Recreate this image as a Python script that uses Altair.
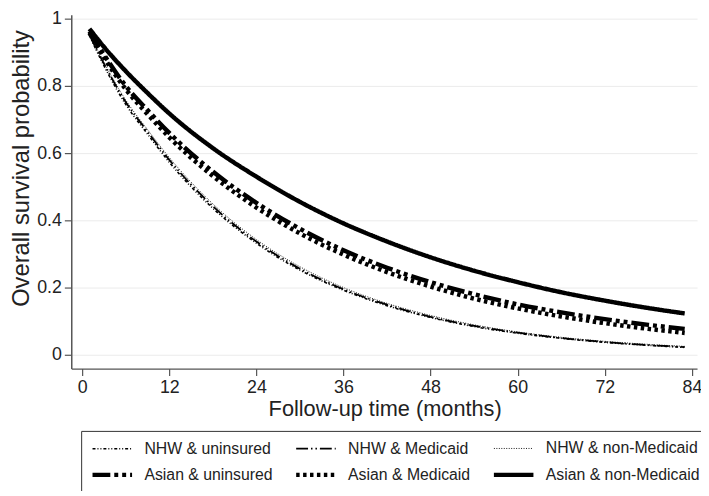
import altair as alt
import pandas as pd

months = [1, 3, 6, 9, 12, 18, 24, 30, 36, 42, 48, 54, 60, 66, 72, 78, 83]

series_names = [
    "NHW & uninsured",
    "NHW & Medicaid",
    "NHW & non-Medicaid",
    "Asian & uninsured",
    "Asian & Medicaid",
    "Asian & non-Medicaid",
]

nhw_uninsured = [0.950, 0.860, 0.745, 0.657, 0.573, 0.436, 0.332, 0.252, 0.192, 0.146, 0.111, 0.084, 0.064, 0.049, 0.037, 0.028, 0.022]
nhw_medicaid = [0.952, 0.866, 0.752, 0.664, 0.580, 0.442, 0.337, 0.256, 0.195, 0.149, 0.113, 0.086, 0.066, 0.050, 0.038, 0.029, 0.023]
nhw_nonmedicaid = [0.955, 0.870, 0.758, 0.670, 0.587, 0.449, 0.343, 0.262, 0.200, 0.153, 0.117, 0.089, 0.068, 0.052, 0.040, 0.031, 0.025]
asian_uninsured = [0.962, 0.893, 0.800, 0.728, 0.660, 0.545, 0.452, 0.375, 0.311, 0.259, 0.216, 0.180, 0.150, 0.126, 0.106, 0.089, 0.077]
asian_medicaid = [0.958, 0.885, 0.790, 0.716, 0.647, 0.532, 0.438, 0.361, 0.298, 0.246, 0.203, 0.167, 0.138, 0.114, 0.094, 0.077, 0.065]
asian_nonmedicaid = [0.970, 0.916, 0.844, 0.779, 0.718, 0.615, 0.530, 0.455, 0.391, 0.337, 0.290, 0.250, 0.216, 0.186, 0.161, 0.139, 0.123]

x_ticks = [0, 12, 24, 36, 48, 60, 72, 84]
y_ticks = [0, 0.2, 0.4, 0.6, 0.8, 1]

dash_styles = [[3, 2, 1, 2, 1, 2], [12, 3, 1.5, 3, 1.5, 3], [1, 1.5], [18, 4, 4, 4, 4, 4], [3.5, 3.5], [1, 0]]
line_widths = [1.6, 1.8, 0.9, 4.5, 4.5, 4.5]

all_values = [nhw_uninsured, nhw_medicaid, nhw_nonmedicaid, asian_uninsured, asian_medicaid, asian_nonmedicaid]
rows = []
for gid, (name, vals) in enumerate(zip(series_names, all_values)):
    for m, v in zip(months, vals):
        rows.append({"group": name, "gid": gid, "month": m, "surv": v})
df = pd.DataFrame(rows)

thresholds = [i + 0.5 for i in range(len(series_names) - 1)]
names_js = "[" + ",".join("'" + n + "'" for n in series_names) + "]"

FONT = "Liberation Sans"

legend = alt.Legend(
    title=None,
    orient="none",
    legendX=10,
    legendY=421,
    columns=3,
    direction="horizontal",
    labelExpr=f"{names_js}[datum.index]",
)

chart = alt.Chart(df).mark_line(color="black", interpolate="monotone").encode(
    x=alt.X(
        "month:Q",
        scale=alt.Scale(domain=[-1.5, 84.7], nice=False, zero=False),
        axis=alt.Axis(
            values=x_ticks,
            title="Follow-up time (months)",
            grid=False,
            labelFontSize=18,
            titleFontSize=22,
            titleFontWeight="normal",
            tickSize=7,
            labelPadding=3,
            titleX=317,
            titleY=40,
            titleBaseline="middle",
            titleAlign="center",
        ),
    ),
    y=alt.Y(
        "surv:Q",
        scale=alt.Scale(domain=[-0.0412, 1.0118], nice=False, zero=False),
        axis=alt.Axis(
            values=y_ticks,
            format="~g",
            title="Overall survival probability",
            grid=True,
            gridColor="#ebebeb",
            gridWidth=1,
            labelFontSize=18,
            titleFontSize=24,
            titleFontWeight="normal",
            tickSize=7,
            labelPadding=3,
            titleAngle=270,
            titleX=-50,
            titleY=155,
            titleAlign="center",
            titleBaseline="middle",
        ),
    ),
    strokeDash=alt.StrokeDash(
        "gid:Q",
        scale=alt.Scale(type="threshold", domain=thresholds, range=dash_styles),
        legend=legend,
    ),
    strokeWidth=alt.StrokeWidth(
        "gid:Q",
        scale=alt.Scale(type="threshold", domain=thresholds, range=line_widths),
        legend=legend,
    ),
    detail="group:N",
    order=alt.Order("month:Q"),
).properties(
    width=633,
    height=358,
    autosize=alt.AutoSizeParams(type="none"),
    padding={"left": 64, "top": 4, "right": 4, "bottom": 121},
).configure(
    font=FONT,
    background="white",
).configure_view(
    stroke=None,
).configure_axis(
    domainColor="#555555",
    domainWidth=1.5,
    tickColor="#555555",
    tickWidth=1.2,
    labelColor="#222222",
    titleColor="#222222",
    labelFont=FONT,
    titleFont=FONT,
).configure_legend(
    labelFont=FONT,
    labelFontSize=16,
    labelColor="#222222",
    symbolType="M-2.5,0H2.5",
    symbolSize=256,
    symbolOffset=12,
    symbolStrokeColor="black",
    labelOffset=22,
    columnPadding=14,
    rowPadding=8,
    padding=9,
    strokeColor="#333333",
    strokeWidth=1,
    gridAlign="each",
)

chart.save("out.html", embed_options={"renderer": "svg", "actions": False})
